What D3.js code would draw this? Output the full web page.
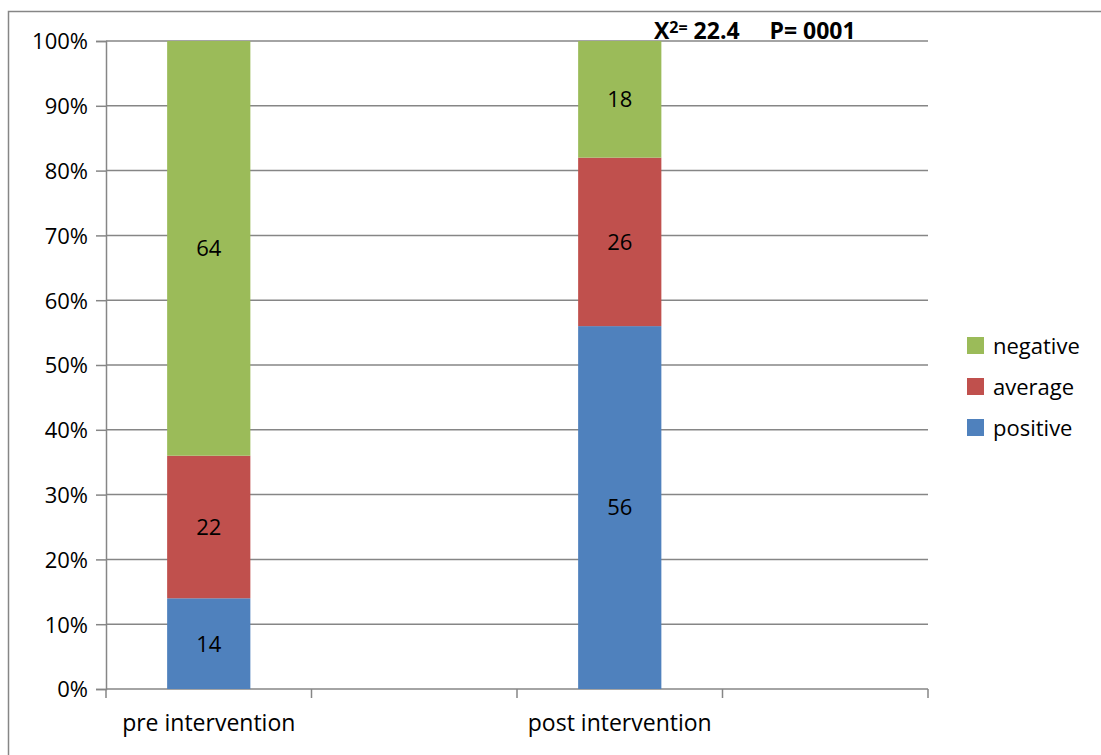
<!DOCTYPE html>
<html>
<head>
<meta charset="utf-8">
<script src="https://cdn.jsdelivr.net/npm/d3@7"></script>
<style>
  body { margin: 0; background: #fff; }
  text { font-family: "Open Sans", sans-serif; fill: #000; font-variant-ligatures: none; }
</style>
</head>
<body>
<svg id="chart" width="1101" height="755"></svg>
<script>
// categories (empty slots keep the gaps between the two bars)
var categories = ['pre intervention', 'gap1', 'post intervention', 'gap2'];
var categoryLabels = { 'pre intervention': 'pre intervention', 'post intervention': 'post intervention' };
var seriesNames = ['positive', 'average', 'negative'];
var positive = { 'pre intervention': 14, 'post intervention': 56 };
var average  = { 'pre intervention': 22, 'post intervention': 26 };
var negative = { 'pre intervention': 64, 'post intervention': 18 };
var yTicks = [0, 10, 20, 30, 40, 50, 60, 70, 80, 90, 100];
var annotationParts = [
    { text: 'X', sup: false },
    { text: '2=', sup: true },
    { text: ' 22.4     P= 0001', sup: false }
];

var colors = { positive: '#4F81BD', average: '#C0504D', negative: '#9BBB59' };

var svg = d3.select('#chart');

/* outer chart frame (cut off at the right and bottom) */
svg.append('rect')
    .attr('x', 8.5).attr('y', 11.5)
    .attr('width', 1200).attr('height', 900)
    .attr('fill', 'none').attr('stroke', '#868686').attr('stroke-width', 1.5);

var plotLeft = 106, plotRight = 928, plotTop = 41, plotBottom = 689;

var x = d3.scaleBand().domain(categories).range([plotLeft, plotRight]).paddingInner(0).paddingOuter(0);
var y = d3.scaleLinear().domain([0, 100]).range([plotBottom, plotTop]);

// gridlines
svg.append('g').selectAll('line')
    .data(yTicks.slice(1))
    .enter().append('line')
    .attr('x1', plotLeft).attr('x2', plotRight)
    .attr('y1', function(d) { return y(d); })
    .attr('y2', function(d) { return y(d); })
    .attr('stroke', '#868686').attr('stroke-width', 1.5);

// y axis
var yAxis = d3.axisLeft(y).tickValues(yTicks)
    .tickFormat(function(d) { return d + '%'; })
    .tickSize(10).tickPadding(8);
var gy = svg.append('g').attr('transform', 'translate(' + plotLeft + ',0)').call(yAxis);
gy.select('.domain').attr('stroke', '#868686').attr('stroke-width', 1.5);
gy.selectAll('.tick line').attr('stroke', '#868686').attr('stroke-width', 1.5);
gy.selectAll('.tick text').style('font-size', '22px').style('font-family', '"Open Sans", sans-serif')
    .attr('fill', '#000').attr('dy', '0.36em');

// x axis: ticks at band boundaries
var boundaries = categories.map(function(c) { return x(c); }).concat([plotRight]);
svg.append('line')
    .attr('x1', plotLeft).attr('x2', plotRight).attr('y1', plotBottom).attr('y2', plotBottom)
    .attr('stroke', '#868686').attr('stroke-width', 1.5);
svg.append('g').selectAll('line')
    .data(boundaries)
    .enter().append('line')
    .attr('x1', function(d) { return d; }).attr('x2', function(d) { return d; })
    .attr('y1', plotBottom).attr('y2', plotBottom + 9)
    .attr('stroke', '#868686').attr('stroke-width', 1.5);
svg.append('g').selectAll('text')
    .data(categories.filter(function(c) { return categoryLabels[c]; }))
    .enter().append('text')
    .attr('x', function(d) { return x(d) + x.bandwidth() / 2; })
    .attr('y', 731)
    .attr('text-anchor', 'middle')
    .style('font-size', '23px')
    .text(function(d) { return categoryLabels[d]; });

// stacked bars
var rows = categories.filter(function(c) { return categoryLabels[c]; }).map(function(c) {
    return { cat: c, positive: positive[c], average: average[c], negative: negative[c] };
});
var stack = d3.stack().keys(seriesNames)(rows);
var barW = x.bandwidth() * 0.405;

var layers = svg.append('g').selectAll('g')
    .data(stack)
    .enter().append('g')
    .attr('fill', function(d) { return colors[d.key]; });

layers.selectAll('rect')
    .data(function(d) { return d; })
    .enter().append('rect')
    .attr('x', function(d) { return x(d.data.cat) + (x.bandwidth() - barW) / 2; })
    .attr('width', barW)
    .attr('y', function(d) { return y(d[1]); })
    .attr('height', function(d) { return y(d[0]) - y(d[1]); });

layers.selectAll('text')
    .data(function(d) { return d.map(function(p) { return { p: p, key: d.key }; }); })
    .enter().append('text')
    .attr('x', function(d) { return x(d.p.data.cat) + x.bandwidth() / 2; })
    .attr('y', function(d) { return (y(d.p[0]) + y(d.p[1])) / 2; })
    .attr('dy', '0.36em')
    .attr('text-anchor', 'middle')
    .style('font-size', '22px')
    .style('fill', '#000')
    .text(function(d) { return d.p.data[d.key]; });

// annotation
var ann = svg.append('text')
    .attr('x', 654).attr('y', 39)
    .style('font-size', '23px').style('font-weight', 'bold')
    .attr('xml:space', 'preserve');
ann.selectAll('tspan')
    .data(annotationParts)
    .enter().append('tspan')
    .style('font-size', function(d) { return d.sup ? '16px' : '23px'; })
    .attr('dy', function(d, i) {
        if (d.sup) return -6;
        return i > 0 && annotationParts[i - 1].sup ? 6 : 0;
    })
    .text(function(d) { return d.text; });

// legend
var legend = svg.append('g').selectAll('g')
    .data(seriesNames.slice().reverse())
    .enter().append('g')
    .attr('transform', function(d, i) { return 'translate(967,' + (337 + i * 41) + ')'; });
legend.append('rect')
    .attr('width', 17).attr('height', 17)
    .attr('fill', function(d) { return colors[d]; });
legend.append('text')
    .attr('x', 26).attr('y', 9).attr('dy', '0.36em')
    .style('font-size', '22px')
    .text(function(d) { return d; });
</script>
</body>
</html>
